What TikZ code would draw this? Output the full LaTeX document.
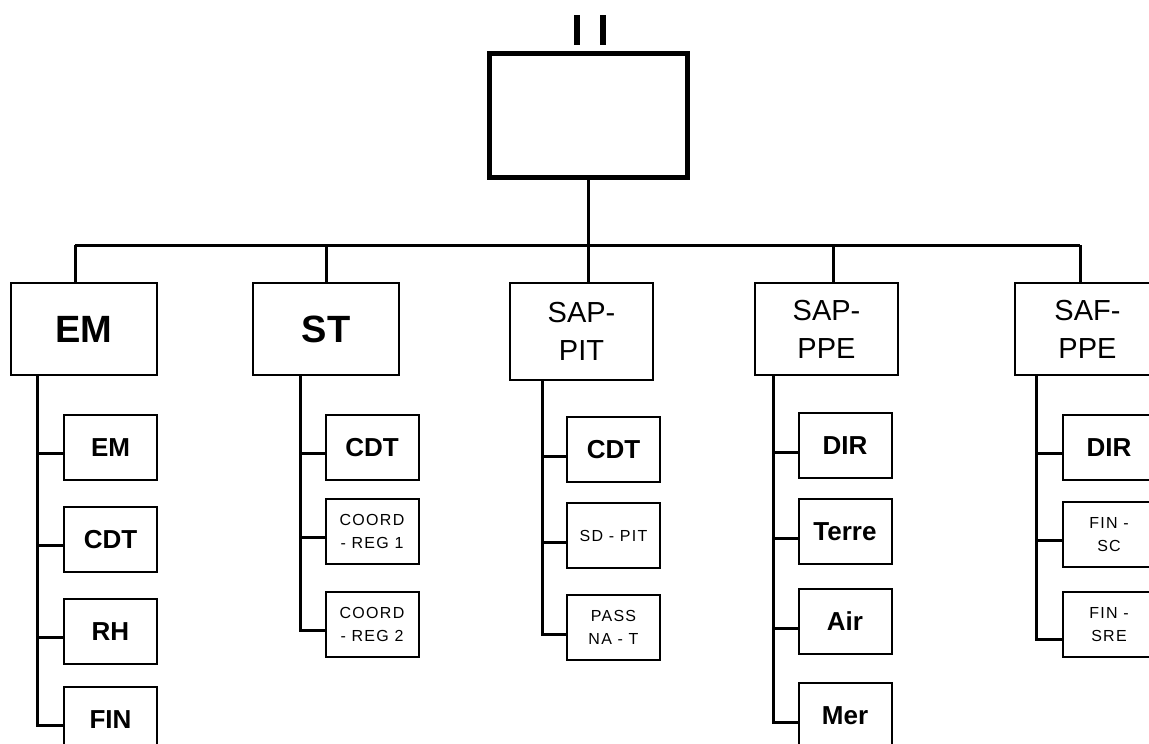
\documentclass[tikz,border=0pt]{standalone}
\usepackage{fontspec}
\setmainfont{Liberation Sans}
\newfontfamily\smallf[LetterSpace=8]{Liberation Sans}
\begin{document}
\begin{tikzpicture}[x=1pt,y=-1pt,
  box/.style={draw, line width=2pt, rectangle, inner sep=0pt, align=center},
  lvl/.style={box, minimum width=146pt, minimum height=92pt},
  sub/.style={box, minimum width=93pt, minimum height=65pt},
  bigb/.style={font=\bfseries\fontsize{38}{40}\selectfont},
  midt/.style={font=\fontsize{29}{38}\selectfont},
  subb/.style={font=\bfseries\fontsize{26}{30}\selectfont},
  subs/.style={font=\smallf\fontsize{16}{23}\selectfont},
  link/.style={line width=3pt},
  bar/.style={line width=6pt}]
\useasboundingbox (0,0) rectangle (1149,744);
% top
\node[draw, line width=5pt, minimum width=198pt, minimum height=124pt, inner sep=0pt] (top) at (588,115) {};
\coordinate (b1a) at (577,15); \coordinate (b1b) at (577,45);
\coordinate (b2a) at (603,15); \coordinate (b2b) at (603,45);
\draw[bar] (b1a) -- (b1b);
\draw[bar] (b2a) -- (b2b);
% level 1
\node[lvl,bigb] (EM) at (84,329) {EM};
\node[lvl,bigb] (ST) at (326,329) {ST};
\node[lvl,midt,minimum width=143pt,minimum height=97pt] (PIT) at (581.5,331.5) {SAP-\\PIT};
\node[lvl,midt,minimum width=143pt] (PPE) at (826.5,329) {SAP-\\PPE};
\node[lvl,midt,minimum width=145pt] (SAF) at (1087.5,329) {SAF-\\PPE};
% horizontal bus
\coordinate (dEM) at (75,245);
\coordinate (dST) at (326,245);
\coordinate (dPIT) at (588,245);
\coordinate (dPPE) at (833,245);
\coordinate (dSAF) at (1080,245);
\draw[link] (top.south) -- (dPIT);
\draw[link] (dEM) -- (dSAF);
\draw[link] (dEM) -- (dEM |- EM.north);
\draw[link] (dST) -- (dST |- ST.north);
\draw[link] (dPIT) -- (dPIT |- PIT.north);
\draw[link] (dPPE) -- (dPPE |- PPE.north);
\draw[link] (dSAF) -- (dSAF |- SAF.north);
% EM column
\node[sub,subb] (e1) at (110.5,447.5) {EM};
\node[sub,subb] (e2) at (110.5,539.5) {CDT};
\node[sub,subb] (e3) at (110.5,631.5) {RH};
\node[sub,subb] (e4) at (110.5,719.5) {FIN};
\coordinate (sEM) at (37,0 |- EM.south);
\foreach \c in {e1,e2,e3,e4} \draw[link] (sEM) |- ([yshift=-6pt]\c.west);
% ST column
\node[sub,subb] (s1) at (372,447.5) {CDT};
\node[sub,subs] (s2) at (372,531.5) {COORD\\- REG 1};
\node[sub,subs] (s3) at (372,624.5) {COORD\\- REG 2};
\coordinate (sST) at (300,0 |- ST.south);
\foreach \c in {s1,s2,s3} \draw[link] (sST) |- ([yshift=-6pt]\c.west);
% SAP-PIT column
\node[sub,subb] (p1) at (613.5,449.5) {CDT};
\node[sub,subs] (p2) at (613.5,535.5) {SD - PIT};
\node[sub,subs] (p3) at (613.5,627.5) {PASS\\NA - T};
\coordinate (sPIT) at (542,0 |- PIT.south);
\foreach \c in {p1,p2,p3} \draw[link] (sPIT) |- ([yshift=-7pt]\c.west);
% SAP-PPE column
\node[sub,subb] (q1) at (845,445.5) {DIR};
\node[sub,subb] (q2) at (845,531.5) {Terre};
\node[sub,subb] (q3) at (845,621.5) {Air};
\node[sub,subb] (q4) at (845,715.5) {Mer};
\coordinate (sPPE) at (773,0 |- PPE.south);
\foreach \c in {q1,q2,q3,q4} \draw[link] (sPPE) |- ([yshift=-7pt]\c.west);
% SAF-PPE column
\node[sub,subb] (f1) at (1109,447.5) {DIR};
\node[sub,subs] (f2) at (1109,534.5) {FIN -\\SC};
\node[sub,subs] (f3) at (1109,624.5) {FIN -\\SRE};
\coordinate (sSAF) at (1036,0 |- SAF.south);
\draw[link] (sSAF) |- ([yshift=-6pt]f1.west);
\draw[link] (sSAF) |- ([yshift=-6pt]f2.west);
\draw[link] (sSAF) |- ([yshift=-15pt]f3.west);
\end{tikzpicture}
\end{document}
